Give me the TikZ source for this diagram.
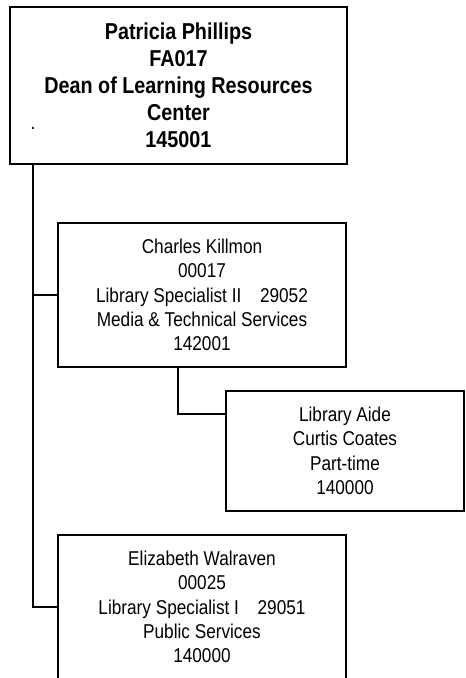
\documentclass[tikz,border=0pt]{standalone}
\usepackage{fontspec}
\setmainfont{Liberation Sans}[FakeStretch=0.86]
\usepackage{tikz}
\usetikzlibrary{calc}
\usetikzlibrary{positioning}

\tikzset{
    post/.style={draw=black, line width=1.5pt, fill=white, inner sep=0pt, align=center,
                 minimum width=216pt, minimum height=108pt,
                 font={\fontsize{15}{18.3}\selectfont}},
    head/.style={post, minimum width=252.75pt, minimum height=117.75pt,
                 font={\fontsize{17.25}{20.25}\selectfont\bfseries}},
    link/.style={draw=black, line width=1.5pt}
}

\begin{document}
\begin{tikzpicture}[x=0.75pt, y=-0.75pt]
            \useasboundingbox (0,0) rectangle (466,678);
            \node[head]                                              (dean)      at (178.5, 85.5)
                 {Patricia Phillips\\FA017\\Dean of Learning Resources\\Center\\145001};
            \node[font={\fontsize{15}{18}\selectfont}, inner sep=0pt, anchor=base] (dot) at (33, 129) {.};
            \node[post]                                              (charles)   at (202.0, 295.0)
                 {Charles Killmon\\00017\\Library Specialist II\hspace{14pt}29052\\Media \& Technical Services\\142001};
            \node[post, minimum width=178.5pt, minimum height=90pt]  (aide)      at (345.0, 451.0)
                 {Library Aide\\Curtis Coates\\Part-time\\140000};
            \node[post]                                              (elizabeth) at (202.0, 607.0)
                 {Elizabeth Walraven\\00025\\Library Specialist I\hspace{14pt}29051\\Public Services\\140000};
            \coordinate (trunk) at ([xshift=18pt]dean.south west);
            \coordinate (branch) at ([xshift=-18pt]charles.south);
            \draw[link] (trunk) |- (elizabeth.west);
            \draw[link] (trunk |- charles.west) -- (charles.west);
            \draw[link] (branch) |- ([yshift=-18pt]aide.north west);
\end{tikzpicture}
\end{document}
